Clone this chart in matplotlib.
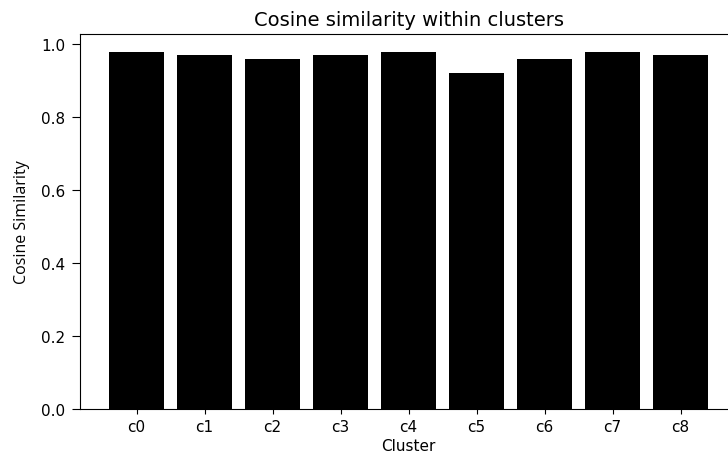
import matplotlib
matplotlib.use("Agg")
import matplotlib.pyplot as plt
from matplotlib import font_manager

clusters = ["c0", "c1", "c2", "c3", "c4", "c5", "c6", "c7", "c8"]
similarity = [0.98, 0.97, 0.96, 0.97, 0.98, 0.92, 0.96, 0.98, 0.97]

plt.rcParams["font.family"] = ["DejaVu Sans"]

# the y label is drawn in a narrower face in the reference
names = {f.name for f in font_manager.fontManager.ttflist}
if "Liberation Sans Narrow" in names:
    ylab_font, ylab_size = "Liberation Sans Narrow", 13.5
else:
    ylab_font, ylab_size = "Open Sans", 11.5

fig = plt.figure(figsize=(7.28, 4.56), dpi=100)
# axes runs past the right edge, as in the reference (right spine cut off)
ax = fig.add_axes([0.1093, 0.1009, 0.904, 0.823])

ax.bar(clusters, similarity, width=0.8, color="black")

ax.set_title("Cosine similarity within clusters", fontsize=14, pad=6)
ax.set_xlabel("Cluster", fontsize=11, labelpad=3)
ax.set_ylabel("Cosine Similarity", family=[ylab_font, "DejaVu Sans"],
              fontsize=ylab_size, labelpad=8)

ax.set_yticks([0.0, 0.2, 0.4, 0.6, 0.8, 1.0])
ax.tick_params(axis="x", labelsize=11)
ax.tick_params(axis="y", labelsize=11, length=6, pad=4.5)

fig.savefig("out.png", dpi=100)
